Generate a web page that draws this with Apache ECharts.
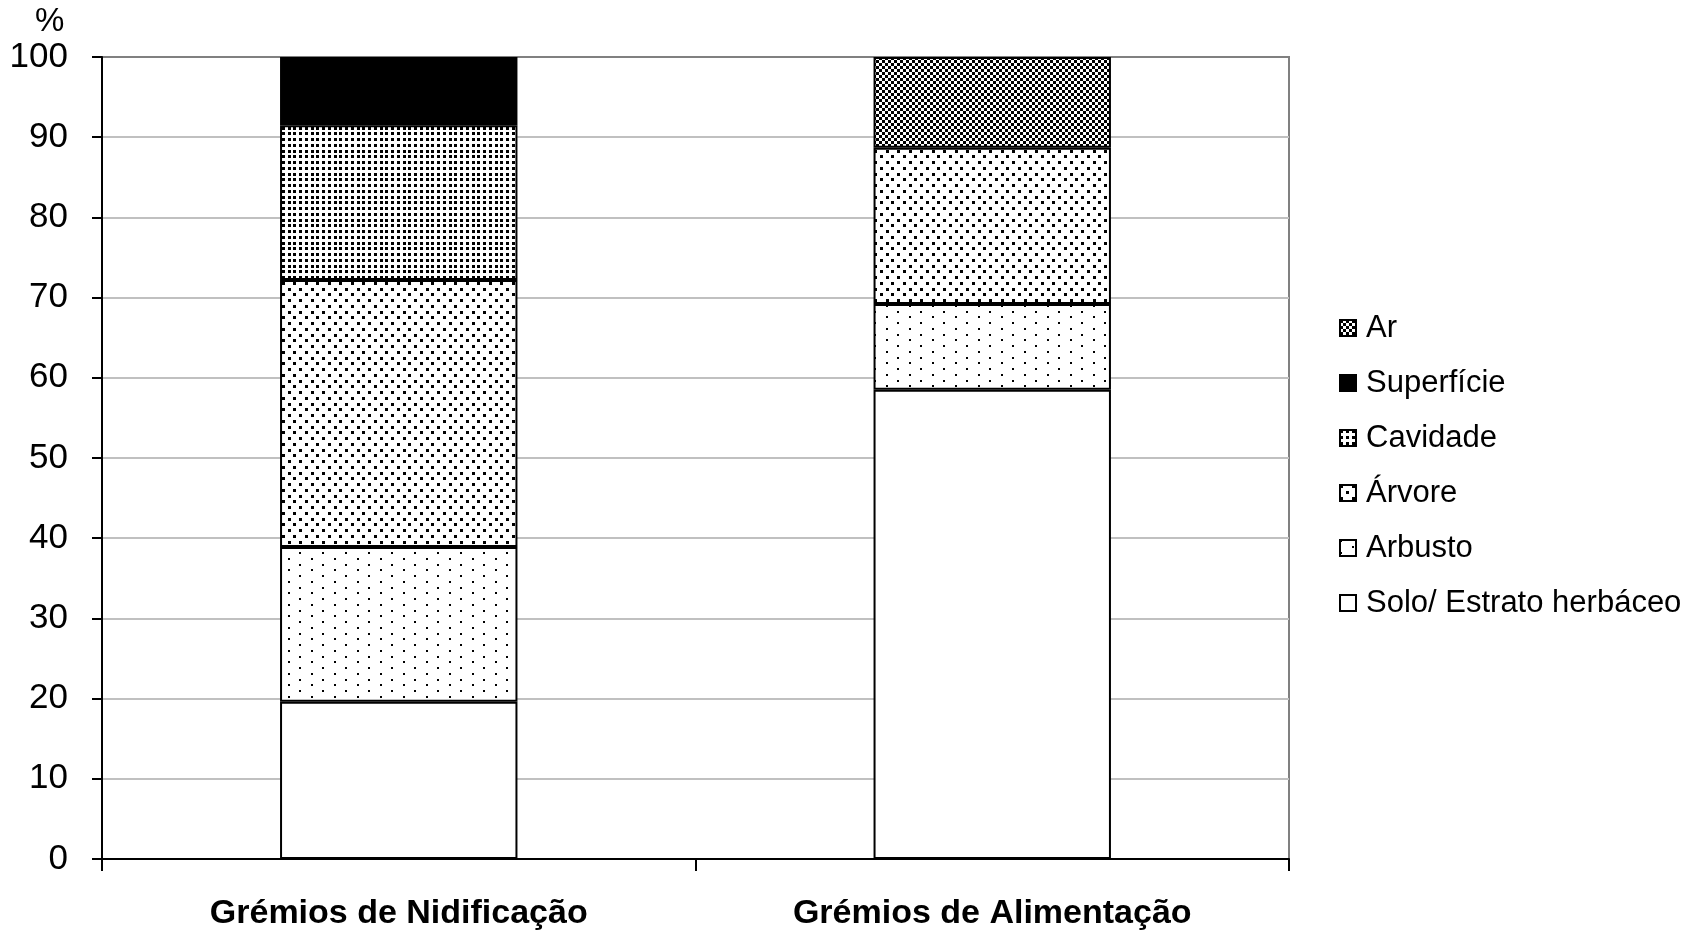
<!DOCTYPE html>
<html>
<head>
<meta charset="utf-8">
<script src="https://cdn.jsdelivr.net/npm/echarts@6/dist/echarts.min.js"></script>
<style>
  html, body { margin: 0; padding: 0; background: #fff; }
  #main { width: 1695px; height: 932px; }
</style>
</head>
<body>
<div id="main"></div>
<script>
// categories and stacked values (%), bottom to top
const categories = ['Grémios de Nidificação', 'Grémios de Alimentação'];
const seriesNames = ['Solo/ Estrato herbáceo', 'Arbusto', 'Árvore', 'Cavidade', 'Superfície', 'Ar'];
const solo = [19.6, 58.5];
const arbusto = [19.3, 10.7];
const arvore = [33.3, 19.5];
const cavidade = [19.3, 0];
const superficie = [8.5, 0];
const ar = [0, 11.3];
const yMin = 0, yMax = 100, yStep = 10;

const FONT = 'Liberation Sans, Arial, sans-serif';

// black and white fill patterns like the old excel ones
function tile(w, h, draw) {
  let c = document.createElement('canvas');
  c.width = w; c.height = h;
  let ctx = c.getContext('2d');
  ctx.fillStyle = '#fff';
  ctx.fillRect(0, 0, w, h);
  ctx.fillStyle = '#000';
  draw(ctx);
  return { image: c, repeat: 'repeat' };
}
function dots(ctx, pts, s) {
  pts.forEach(p => ctx.fillRect(p[0], p[1], s, s));
}

const fills = [
  '#ffffff',
  // Arbusto: sparse staggered dots
  tile(23, 23, ctx => dots(ctx, [[0, 0], [0, 12], [12, 6], [12, 17]], 2)),
  // Árvore: denser staggered dots
  tile(23, 23, ctx => dots(ctx, [[0, 0], [12, 0], [6, 6], [17, 6], [0, 12], [12, 12], [6, 17], [17, 17]], 3)),
  // Cavidade: square grid of dots
  tile(23, 23, ctx => {
    let p = [];
    [0, 6, 12, 17].forEach(x => [0, 6, 12, 17].forEach(y => p.push([x, y])));
    dots(ctx, p, 3);
  }),
  '#000000',
  // Ar: checkerboard
  tile(6, 6, ctx => { ctx.fillRect(0, 0, 3, 3); ctx.fillRect(3, 3, 3, 3); })
];

const values = [solo, arbusto, arvore, cavidade, superficie, ar];

let series = seriesNames.map((name, i) => ({
  name: name,
  type: 'bar',
  stack: 'total',
  barWidth: '40%',
  itemStyle: { color: fills[i], borderColor: '#000', borderWidth: 2 },
  emphasis: { disabled: true },
  data: values[i].map(v => (v === 0 ? null : v))
}));

let myChart = echarts.init(document.getElementById('main'));
let option = {
  animation: false,
  backgroundColor: '#fff',
  textStyle: { fontFamily: FONT },
  grid: {
    left: 102, right: 406, top: 57, bottom: 73,
    show: true, borderColor: '#808080', borderWidth: 2
  },
  legend: {
    orient: 'vertical',
    left: 1334,
    top: 307,
    icon: 'rect',
    itemWidth: 16,
    itemHeight: 16,
    itemGap: 23,
    data: seriesNames.slice().reverse(),
    textStyle: { color: '#000', fontSize: 31, lineHeight: 32, fontFamily: FONT, padding: [0, 0, 0, 5] }
  },
  xAxis: {
    type: 'category',
    data: categories,
    axisLine: { lineStyle: { color: '#000', width: 2 } },
    axisTick: { show: true, alignWithLabel: false, length: 12, lineStyle: { color: '#000', width: 2 } },
    axisLabel: { color: '#000', fontSize: 34, fontWeight: 'bold', margin: 38, fontFamily: FONT }
  },
  yAxis: {
    type: 'value',
    min: yMin, max: yMax, interval: yStep,
    axisLine: { show: true, lineStyle: { color: '#000', width: 2 } },
    axisTick: { show: true, length: 10, lineStyle: { color: '#000', width: 2 } },
    axisLabel: { color: '#000', fontSize: 35, margin: 34, fontFamily: FONT },
    splitLine: { show: true, showMinLine: false, showMaxLine: false, lineStyle: { color: '#c0c0c0', width: 2 } }
  },
  graphic: [{
    type: 'text',
    left: 35, top: 5,
    style: { text: '%', fontSize: 33, fill: '#000', fontFamily: FONT }
  }],
  series: series
};
myChart.setOption(option);
</script>
</body>
</html>
